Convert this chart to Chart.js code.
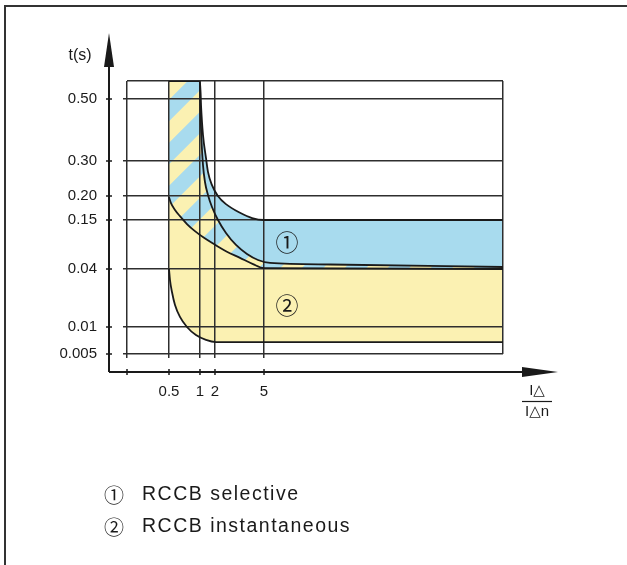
<!DOCTYPE html>
<html>
<head>
<meta charset="utf-8">
<title>RCCB tripping time</title>
<script src="https://cdn.jsdelivr.net/npm/chart.js@4.4.1/dist/chart.umd.min.js"></script>
<style>
  html, body { margin: 0; padding: 0; background: #fff; }
  #wrap { width: 627px; height: 565px; }
</style>
</head>
<body>
<div id="wrap"><canvas id="myChart" width="627" height="565"></canvas></div>
<script>
// axis ticks (the drawing is schematic, not to scale)
var xTicks = [0.5, 1, 2, 5];
var xTickLabels = ['0.5', '1', '2', '5'];
var xMin = 0.25, xMax = 10;
var yTicks = [0.005, 0.01, 0.04, 0.15, 0.2, 0.3, 0.5];
var yTickLabels = ['0.005', '0.01', '0.04', '0.15', '0.20', '0.30', '0.50'];
var yMin = 0.005, yMax = 0.6;

// selective RCCB: upper limit and lower limit of the band
var selTopX = [0.5, 1, 1.067, 1.2, 1.4, 1.533, 1.8, 2.18, 2.67, 3.53, 4.27, 5, 10];
var selTopY = [0.6, 0.6, 0.481, 0.384, 0.31, 0.269, 0.231, 0.2, 0.183, 0.165, 0.154, 0.15, 0.15];
var selLowX = [0.5, 1, 1.033, 1.1, 1.2, 1.333, 1.533, 1.8, 2.184, 2.673, 3.286, 3.959, 4.633, 5.126, 6.381, 10];
var selLowY = [0.6, 0.6, 0.4645, 0.3677, 0.2886, 0.24, 0.2029, 0.1771, 0.15, 0.1208, 0.0939, 0.0737, 0.0602, 0.0535, 0.0501, 0.0445];

// instantaneous RCCB
var instTopX = [0.5, 0.532, 0.597, 0.677, 0.79, 0.919, 1.267, 1.933, 2.673, 3.531, 4.327, 5, 10];
var instTopY = [0.198, 0.185, 0.171, 0.158, 0.141, 0.125, 0.11, 0.096, 0.08, 0.065, 0.051, 0.042, 0.04];
var instLowX = [0.5, 0.516, 0.548, 0.597, 0.677, 0.79, 0.935, 1.4, 2.061, 10];
var instLowY = [0.04, 0.0343, 0.0281, 0.0214, 0.0152, 0.01, 0.0085, 0.0076, 0.0072, 0.0072];

var legendMarks = ['\u2460', '\u2461'];
var legendLabels = ['RCCB selective', 'RCCB instantaneous'];

var ink = '#1a1a1a', gridInk = '#2e2e2e';
var blue = '#a8dbee', yellow = '#fbf1b2';

// where each tick value sits along its axis (0 = min, 1 = max)
var axisAnchors = {
  x: [[0.25, 0], [0.5, 0.1117], [1, 0.1941], [2, 0.2340], [5, 0.3644], [10, 1]],
  y: [[0.005, 0], [0.01, 0.0989], [0.04, 0.3114], [0.15, 0.4908], [0.2, 0.5788], [0.3, 0.7070], [0.5, 0.9341], [0.6, 1]]
};

function toDecimal(a, v) {
  var i = 0;
  while (i < a.length - 2 && v > a[i + 1][0]) i++;
  var t = (v - a[i][0]) / (a[i + 1][0] - a[i][0]);
  return a[i][1] + t * (a[i + 1][1] - a[i][1]);
}
function fromDecimal(a, d) {
  var i = 0;
  while (i < a.length - 2 && d > a[i + 1][1]) i++;
  var t = (d - a[i][1]) / (a[i + 1][1] - a[i][1]);
  return a[i][0] + t * (a[i + 1][0] - a[i][0]);
}

class SchematicScale extends Chart.LinearScale {
  getPixelForValue(value) {
    if (value === null || isNaN(value)) return NaN;
    return this.getPixelForDecimal(toDecimal(axisAnchors[this.id], value));
  }
  getValueForPixel(pixel) {
    return fromDecimal(axisAnchors[this.id], this.getDecimalForPixel(pixel));
  }
}
SchematicScale.id = 'schematic';
Chart.register(SchematicScale);

function stripes(bg, fg, size) {
  var c = document.createElement('canvas');
  c.width = c.height = size;
  var g = c.getContext('2d');
  g.fillStyle = bg;
  g.fillRect(0, 0, size, size);
  g.strokeStyle = fg;
  g.lineWidth = size / (2 * Math.SQRT2);
  g.beginPath();
  // lines x + y = k*size, run well past the tile so the caps do not show
  for (var k = -1; k <= 3; k++) {
    g.moveTo(k * size + size, -size);
    g.lineTo(k * size - 2 * size, 2 * size);
  }
  g.stroke();
  return g.createPattern(c, 'repeat');
}

function pts(xs, ys) {
  return xs.map(function (x, i) { return { x: x, y: ys[i] }; });
}

var decor = {
  id: 'decor',
  afterDraw: function (chart) {
    var ctx = chart.ctx, a = chart.chartArea;
    var sx = chart.scales.x, sy = chart.scales.y;
    var ax = a.left - 18, ay = a.bottom + 18;
    ctx.save();

    // frame
    ctx.strokeStyle = '#333';
    ctx.lineWidth = 2;
    ctx.beginPath();
    ctx.moveTo(5, chart.height);
    ctx.lineTo(5, 6);
    ctx.lineTo(chart.width, 6);
    ctx.stroke();

    // axes with arrows
    ctx.strokeStyle = ink;
    ctx.fillStyle = ink;
    ctx.lineWidth = 2;
    ctx.beginPath();
    ctx.moveTo(ax, ay); ctx.lineTo(ax, a.top - 30);
    ctx.moveTo(ax, ay); ctx.lineTo(a.right + 40, ay);
    ctx.stroke();
    ctx.beginPath();
    ctx.moveTo(ax, a.top - 48); ctx.lineTo(ax - 5, a.top - 14); ctx.lineTo(ax + 5, a.top - 14);
    ctx.closePath(); ctx.fill();
    ctx.beginPath();
    ctx.moveTo(a.right + 55, ay); ctx.lineTo(a.right + 19, ay - 5); ctx.lineTo(a.right + 19, ay + 5);
    ctx.closePath(); ctx.fill();

    ctx.lineWidth = 1.5;
    ctx.beginPath();
    sx.ticks.forEach(function (t) {
      if (t.value === xMax) return;
      var px = sx.getPixelForValue(t.value);
      ctx.moveTo(px, ay - 3); ctx.lineTo(px, ay + 3);
    });
    sy.ticks.forEach(function (t) {
      if (t.value === yMax) return;
      var py = sy.getPixelForValue(t.value);
      ctx.moveTo(ax - 3, py); ctx.lineTo(ax + 3, py);
    });
    ctx.stroke();

    // axis titles
    ctx.textAlign = 'center';
    ctx.textBaseline = 'middle';
    ctx.font = '16px "Liberation Sans", Arial, sans-serif';
    ctx.fillText('t(s)', ax - 29, a.top - 25);
    var fx = a.right + 34;
    ctx.font = '15px "Liberation Sans", "DejaVu Sans", sans-serif';
    ctx.fillText('I\u25B3', fx, ay + 19);
    ctx.fillText('I\u25B3n', fx, ay + 40);
    ctx.lineWidth = 1.2;
    ctx.beginPath();
    ctx.moveTo(fx - 15, ay + 29.5); ctx.lineTo(fx + 15, ay + 29.5);
    ctx.stroke();

    // region numbers
    ctx.font = '23px "Noto Sans CJK JP", "DejaVu Sans", sans-serif';
    var opts = chart.options.plugins.decor;
    opts.marks.forEach(function (m, i) {
      ctx.fillText(legendMarks[i], sx.getPixelForValue(m[0]), sy.getPixelForValue(m[1]));
    });

    // legend
    legendLabels.forEach(function (label, i) {
      var y = 495 + i * 32;
      ctx.textAlign = 'center';
      ctx.font = '20px "Noto Sans CJK JP", "DejaVu Sans", sans-serif';
      ctx.fillText(legendMarks[i], 114, y);
      ctx.textAlign = 'left';
      ctx.font = '19.5px "Liberation Sans", Arial, sans-serif';
      ctx.letterSpacing = '1.5px';
      ctx.fillText(label, 142, y);
      ctx.letterSpacing = '0px';
    });
    ctx.restore();
  }
};

Chart.defaults.font.family = '"Liberation Sans", Arial, sans-serif';
Chart.defaults.color = ink;

var common = {
  borderColor: ink,
  borderWidth: 1.8,
  pointRadius: 0,
  cubicInterpolationMode: 'monotone'
};

var ctx = document.getElementById('myChart');
var myChart = new Chart(ctx, {
  type: 'line',
  data: {
    datasets: [
      Object.assign({ label: 'RCCB selective (lower limit)', data: pts(selLowX, selLowY),
        fill: 2, backgroundColor: stripes(blue, yellow, 43) }, common),
      Object.assign({ label: legendLabels[0], data: pts(selTopX, selTopY),
        fill: 2, backgroundColor: blue }, common),
      Object.assign({ label: legendLabels[1], data: pts(instTopX, instTopY),
        fill: 3, backgroundColor: yellow }, common),
      Object.assign({ label: 'RCCB instantaneous (lower limit)', data: pts(instLowX, instLowY),
        fill: false }, common)
    ]
  },
  options: {
    responsive: false,
    animation: false,
    events: [],
    layout: { padding: { left: 0, top: 81, right: 124, bottom: 0 } },
    plugins: {
      legend: { display: false },
      tooltip: { enabled: false },
      filler: { drawTime: 'beforeDraw' },
      decor: { marks: [[5.48, 0.1], [5.48, 0.021]] }
    },
    scales: {
      x: {
        type: 'schematic',
        min: xMin,
        max: xMax,
        afterBuildTicks: function (s) {
          s.ticks = [xMin].concat(xTicks, [xMax]).map(function (v) { return { value: v }; });
        },
        afterFit: function (s) { s.height = 211; },
        border: { display: false },
        grid: {
          color: gridInk,
          lineWidth: 1.5,
          tickLength: 4,
          tickColor: function (c) { return c.tick && c.tick.value === xMax ? 'rgba(0,0,0,0)' : gridInk; }
        },
        ticks: {
          autoSkip: false,
          maxRotation: 0,
          padding: 25,
          font: { size: 15 },
          callback: function (v, i) { return xTickLabels[i - 1] || ''; }
        }
      },
      y: {
        type: 'schematic',
        min: yMin,
        max: yMax,
        afterBuildTicks: function (s) {
          s.ticks = yTicks.concat([yMax]).map(function (v) { return { value: v }; });
        },
        afterFit: function (s) { s.width = 127; },
        border: { display: false },
        grid: {
          color: gridInk,
          lineWidth: 1.5,
          tickLength: 4,
          tickColor: function (c) { return c.tick && c.tick.value === yMax ? 'rgba(0,0,0,0)' : gridInk; }
        },
        ticks: {
          autoSkip: false,
          padding: 26,
          font: { size: 15 },
          callback: function (v, i) { return yTickLabels[i] || ''; }
        }
      }
    }
  },
  plugins: [decor]
});
</script>
</body>
</html>
